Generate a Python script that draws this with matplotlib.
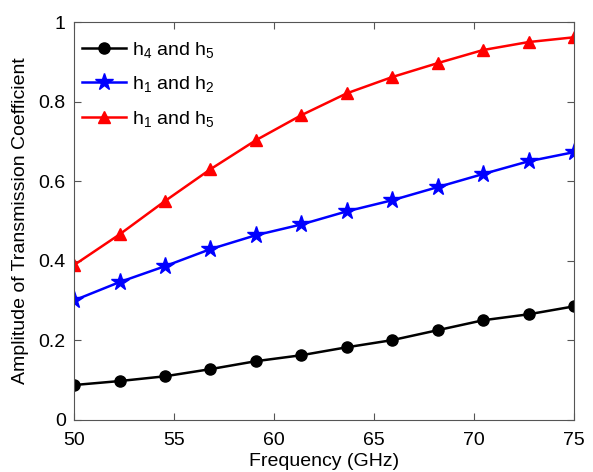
import numpy as np
import matplotlib
matplotlib.use("Agg")
import matplotlib.pyplot as plt

plt.rcParams['font.family'] = ['Liberation Sans', 'DejaVu Sans']
plt.rcParams['mathtext.fontset'] = 'custom'
plt.rcParams['mathtext.rm'] = 'Liberation Sans'
plt.rcParams['mathtext.it'] = 'Liberation Sans'

# Frequency points (GHz) at the markers
freq = np.linspace(50, 75, 12)

# Amplitude values
h4_h5 = [0.087, 0.097, 0.109, 0.127, 0.147, 0.162, 0.182, 0.200, 0.225, 0.250, 0.265, 0.285]
h1_h2 = [0.300, 0.346, 0.386, 0.429, 0.464, 0.491, 0.524, 0.552, 0.585, 0.618, 0.650, 0.673]
h1_h5 = [0.389, 0.466, 0.550, 0.630, 0.703, 0.766, 0.821, 0.862, 0.897, 0.930, 0.950, 0.962]

fig = plt.figure(figsize=(5.93, 4.72), dpi=100)
ax = fig.add_axes([0.125, 0.111, 0.843, 0.842])

ax.plot(freq, h4_h5, color='black', marker='o', markersize=8, linewidth=1.8, label=r'h$_4$ and h$_5$')
ax.plot(freq, h1_h2, color='blue', marker='*', markersize=13, linewidth=1.8, label=r'h$_1$ and h$_2$')
ax.plot(freq, h1_h5, color='red', marker='^', markersize=9, linewidth=1.8, label=r'h$_1$ and h$_5$')

ax.set_xlim(50, 75)
ax.set_ylim(0, 1)
ax.set_xticks([50, 55, 60, 65, 70, 75])
ax.set_yticks([0, 0.2, 0.4, 0.6, 0.8, 1])
ax.set_yticklabels(['0', '0.2', '0.4', '0.6', '0.8', '1'])
ax.tick_params(direction='in', top=True, right=True, labelsize=14, length=5, color='#555555')
ax.tick_params(axis='x', pad=9)
ax.tick_params(axis='y', pad=6)
for s in ax.spines.values():
    s.set_color('#555555')

ax.set_xlabel('Frequency (GHz)', fontsize=14, labelpad=3)
ax.set_ylabel('Amplitude of Transmission Coefficient', fontsize=14, labelpad=7)

ax.legend(loc='upper left', bbox_to_anchor=(-0.02, 1.0), frameon=False, fontsize=14,
          handlelength=2.3, borderaxespad=0.5, labelspacing=0.75, handletextpad=0.3)

fig.savefig('out.png', dpi=100)
